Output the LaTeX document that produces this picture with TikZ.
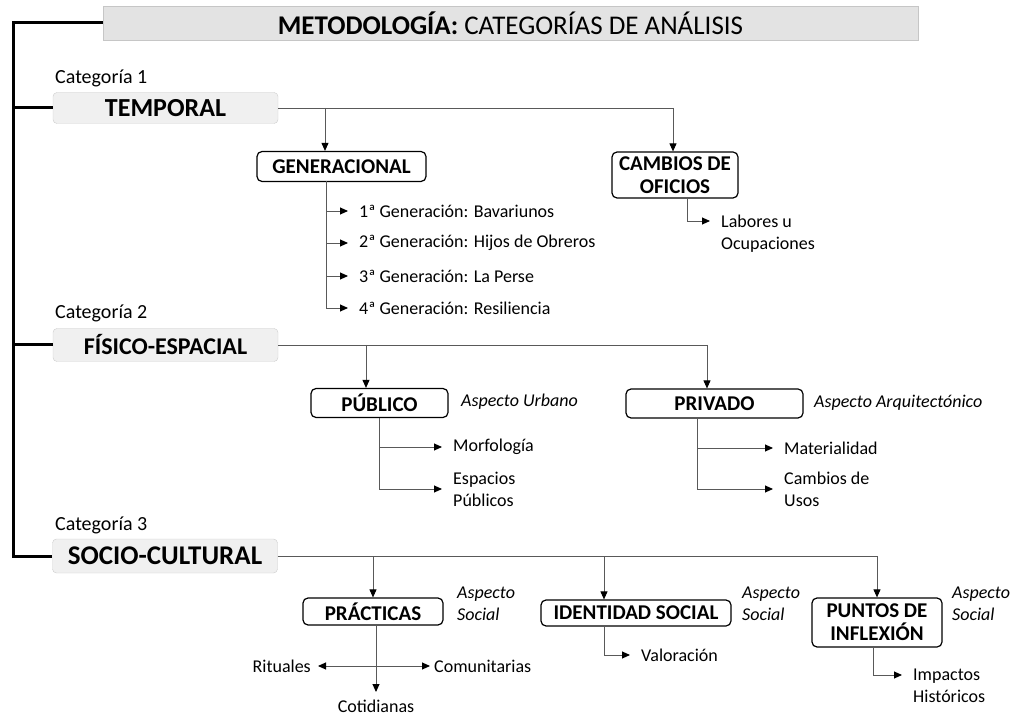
\documentclass[tikz,border=0pt]{standalone}
\usepackage{fontspec}
\setmainfont{Carlito}
\usetikzlibrary{arrows.meta}
\tikzset{
  titlebox/.style={draw=gray!45, fill=gray!22, inner sep=0pt, font=\fontsize{27}{30}\selectfont},
  catbox/.style={draw=gray!40, fill=gray!12, rounded corners=4pt, inner sep=0pt, minimum width=225pt},
  catlabel/.style={anchor=west, inner sep=0pt, font=\fontsize{20}{22}\selectfont},
  subbox/.style={draw, line width=1.2pt, fill=white, rounded corners=5pt, align=center, inner sep=0pt, font=\bfseries\fontsize{21}{23}\selectfont},
  item/.style={anchor=west, align=left, inner xsep=11pt, inner ysep=0pt, font=\fontsize{18}{22}\selectfont},
  aspect/.style={anchor=west, align=left, inner sep=0pt, font=\itshape\fontsize{18}{22}\selectfont},
  link/.style={draw=black!65, line width=0.9pt},
  arr/.style={link, ->},
  twoway/.style={link, <->},
  bracket/.style={line width=3pt}
}
\begin{document}
\begin{tikzpicture}[x=1pt, y=-1pt, >={Triangle[length=8pt,width=7pt,color=black]}]
\useasboundingbox (0,0) rectangle (1013,719);

\node[titlebox, minimum width=815pt, minimum height=34pt] (titulo) at (510.5,23) {\textbf{METODOLOGÍA:} CATEGORÍAS DE ANÁLISIS};

\node[catlabel] (cat1) at (55,78) {Categoría 1};
\node[catbox, minimum height=31pt, font=\bfseries\fontsize{26}{30}\selectfont] (temporal) at (165.5,108) {TEMPORAL};
\node[catlabel] (cat2) at (55,313) {Categoría 2};
\node[catbox, minimum height=33pt, font=\bfseries\fontsize{24}{28}\selectfont] (fisico) at (165.5,345) {FÍSICO-ESPACIAL};
\node[catlabel] (cat3) at (55,525) {Categoría 3};
\node[catbox, minimum height=34pt, font=\bfseries\fontsize{27}{30}\selectfont] (socio) at (165,556) {SOCIO-CULTURAL};

\coordinate (bk) at (13,23);
\draw[bracket] (titulo.west) -- (bk) -- (bk |- socio.west) -- (socio.west);
\draw[bracket] (bk |- temporal.west) -- (temporal.west);
\draw[bracket] (bk |- fisico.west) -- (fisico.west);

\node[subbox, minimum width=169pt, minimum height=30pt] (generacional) at (341.5,166.5) {GENERACIONAL};
\node[subbox, minimum width=126pt, minimum height=46pt] (cambios) at (675,175) {CAMBIOS DE\\OFICIOS};
\node[item] (gen1) at (348,211) {1ª Generación: Bavariunos};
\node[item] (gen2) at (348,243) {2ª Generación: Hijos de Obreros};
\node[item] (gen3) at (348,276) {3ª Generación: La Perse};
\node[item] (gen4) at (348,308) {4ª Generación: Resiliencia};
\node[item] (labores) at (710,234) {Labores u\\Ocupaciones};

\coordinate (t1) at (325,108);
\draw[link] (temporal.east) -- (673,108) coordinate (t2);
\draw[arr] (t1) -- (t1 |- generacional.north);
\draw[arr] (t2) -- (t2 |- cambios.north);
\coordinate (gstem) at (326,181);
\draw[link] (gstem) -- (gstem |- gen4.west);
\foreach \g in {gen1,gen2,gen3,gen4}
  \draw[arr] (gstem |- \g.west) -- (\g.west);
\draw[arr] ([xshift=12pt]cambios.south) |- ([yshift=13pt]labores.west);

\node[subbox, minimum width=137pt, minimum height=29pt] (publico) at (379.5,403) {PÚBLICO};
\node[aspect] (urbano) at (461,402) {Aspecto Urbano};
\node[subbox, minimum width=177pt, minimum height=29pt] (privado) at (714.5,403.5) {PRIVADO};
\node[aspect] (arquitectonico) at (814,403) {Aspecto Arquitectónico};
\node[item] (morfologia) at (442,447) {Morfología};
\node[item] (espacios) at (442,489) {Espacios\\Públicos};
\node[item] (materialidad) at (773,448) {Materialidad};
\node[item] (usos) at (773,489) {Cambios de\\Usos};

\coordinate (f1) at (366,345);
\draw[link] (fisico.east) -- (707,345) coordinate (f2);
\draw[arr] (f1) -- (f1 |- publico.north);
\draw[arr] (f2) -- (f2 |- privado.north);
\draw[arr] (publico.south) |- (espacios.west);
\draw[arr] (publico.south |- morfologia.west) -- (morfologia.west);
\coordinate (pstem) at (697,418);
\draw[arr] (pstem) |- (usos.west);
\draw[arr] (pstem |- materialidad.west) -- (materialidad.west);

\node[subbox, minimum width=140pt, minimum height=27pt] (practicas) at (373,611.5) {PRÁCTICAS};
\node[aspect] (social1) at (457,604) {Aspecto\\Social};
\node[subbox, minimum width=190pt, minimum height=26pt] (identidad) at (636,613) {IDENTIDAD SOCIAL};
\node[aspect] (social2) at (742,604) {Aspecto\\Social};
\node[subbox, minimum width=130pt, minimum height=49pt] (puntos) at (877,622.5) {PUNTOS DE\\INFLEXIÓN};
\node[aspect] (social3) at (952,604) {Aspecto\\Social};

\node[item, anchor=east, inner xsep=7pt] (rituales) at (318,666) {Rituales};
\node[item, inner xsep=4pt] (comunitarias) at (430,666) {Comunitarias};
\node[item, anchor=north, inner sep=0pt] (cotidianas) at (376,700) {Cotidianas};
\node[item] (valoracion) at (630,655) {Valoración};
\node[item] (impactos) at (902,686) {Impactos\\Históricos};

\draw[link] (socio.east) -- (puntos.north |- socio.east);
\draw[arr] (practicas.north |- socio.east) -- (practicas.north);
\coordinate (s2) at (604,556);
\draw[arr] (s2) -- (s2 |- identidad.north);
\draw[arr] (puntos.north |- socio.east) -- (puntos.north);
\draw[arr] ([xshift=3pt]practicas.south) -- ([yshift=8pt]cotidianas.north);
\draw[twoway] (rituales.east) -- (comunitarias.west);
\draw[arr] ([xshift=-32pt]identidad.south) |- (valoracion.west);
\draw[arr] ([xshift=-4pt]puntos.south) |- ([yshift=11pt]impactos.west);
\end{tikzpicture}
\end{document}
